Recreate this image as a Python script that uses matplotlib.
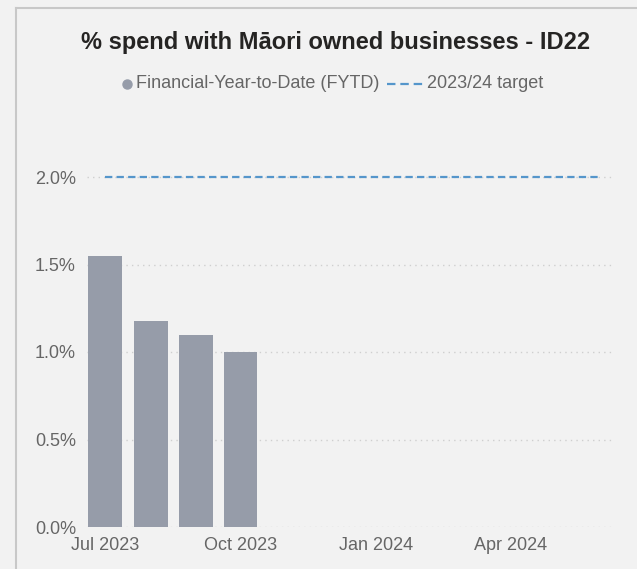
import numpy as np
import pandas as pd
import matplotlib
matplotlib.use('Agg')
import matplotlib.pyplot as plt
import matplotlib.dates as mdates
from matplotlib.lines import Line2D

plt.rcParams['font.family'] = ['Liberation Sans', 'DejaVu Sans']

# data
months = ['2023-07-01', '2023-08-01', '2023-09-01', '2023-10-01']
fytd = [1.55, 1.18, 1.10, 1.00]
target_dates = ['2023-07-01', '2024-06-01']
target = [2.0, 2.0]
xticks = ['2023-07-01', '2023-10-01', '2024-01-01', '2024-04-01']
xticklabels = ['Jul 2023', 'Oct 2023', 'Jan 2024', 'Apr 2024']
yticks = [0.0, 0.5, 1.0, 1.5, 2.0]
legend_labels = ['Financial-Year-to-Date (FYTD)', '2023/24 target']

bg = '#f2f2f2'
barcol = '#969ca9'
tgtcol = '#5596cb'
txtcol = '#666666'

W, H = 637, 569
fig = plt.figure(figsize=(W/100, H/100), dpi=100, facecolor=bg)
ax = fig.add_axes([87/W, 42/H, 527/W, 367.5/H], facecolor=bg)

x = mdates.date2num(pd.to_datetime(months))
ax.bar(x, fytd, width=23, color=barcol, zorder=2)
xt = mdates.date2num(pd.to_datetime(target_dates))
ax.plot(xt, target, color=tgtcol, lw=1.6, dashes=(3.3, 1.9), zorder=3)

x0 = mdates.date2num(pd.Timestamp('2023-07-01'))
ax.set_xlim(x0 - 12.2, x0 + 345.5)
ax.set_ylim(0, 2.1)

ax.set_yticks(yticks)
ax.set_yticklabels(['%.1f%%' % v for v in yticks])
ax.set_xticks(mdates.date2num(pd.to_datetime(xticks)))
ax.set_xticklabels(xticklabels)
ax.tick_params(axis='both', length=0, labelsize=13, colors=txtcol)
ax.tick_params(axis='y', pad=8)
ax.tick_params(axis='x', pad=7)
ax.grid(axis='y', color='#cfcfcf', lw=1, linestyle=(0, (1, 3)), zorder=1)
for s in ax.spines.values():
    s.set_visible(False)

fig.text(336/W, 1 - 43/H, '% spend with Māori owned businesses - ID22',
         ha='center', va='center', fontsize=17, fontweight='bold', color='#252423')

# legend, drawn by hand so the marker sits tight against its label
ly = 1 - 84/H
fig.add_artist(Line2D([127/W], [ly], marker='o', color=barcol, lw=0, markersize=6.5))
fig.text(136/W, ly, legend_labels[0], ha='left', va='center', fontsize=13, color=txtcol)
fig.add_artist(Line2D([387/W, 423/W], [ly, ly], color=tgtcol, lw=1.6, dashes=(3.8, 2.2)))
fig.text(427/W, ly, legend_labels[1], ha='left', va='center', fontsize=13, color=txtcol)

# panel border (top and left edges)
fig.add_artist(Line2D([16/W, 16/W], [0, 1 - 8/H], color='#c8c8c8', lw=1.5))
fig.add_artist(Line2D([16/W, 1], [1 - 8/H, 1 - 8/H], color='#c8c8c8', lw=1.5))

fig.savefig('out.png', dpi=100, facecolor=bg)
